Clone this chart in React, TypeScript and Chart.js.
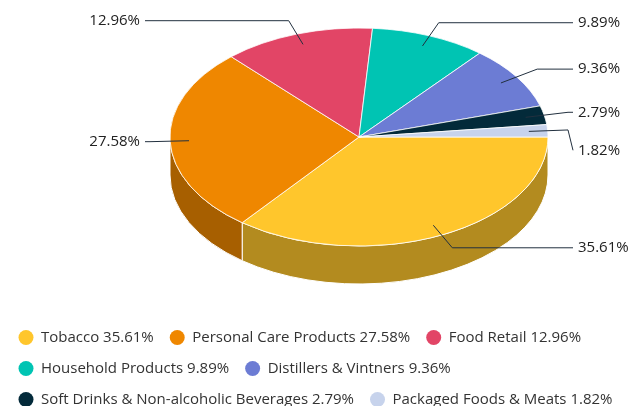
import React, { useEffect, useRef } from 'react';
import { Chart, registerables } from 'chart.js';

Chart.register(...registerables);

// ---- data ----
const CATEGORIES = [
  'Tobacco',
  'Personal Care Products',
  'Food Retail',
  'Household Products',
  'Distillers & Vintners',
  'Soft Drinks & Non-alcoholic Beverages',
  'Packaged Foods & Meats',
];
const SHARES = [35.61, 27.58, 12.96, 9.89, 9.36, 2.79, 1.82];
const COLORS = ['#FFC62C', '#EF8700', '#E24566', '#00C4B3', '#6C7CD4', '#032A3A', '#C7D3EC'];

// ---- layout / style ----
const CX = 359;
const CY = 137;
const RADIUS = 189;
const TILT = 109 / 189;
const DEPTH = 38;
const FONT = 'Open Sans';

function darken(hex: string, f: number) {
  const n = parseInt(hex.slice(1), 16);
  const r = Math.round(((n >> 16) & 255) * f);
  const g = Math.round(((n >> 8) & 255) * f);
  const b = Math.round((n & 255) * f);
  return `rgb(${r},${g},${b})`;
}
const SIDE_COLORS = COLORS.map((c) => darken(c, 0.7));

const pie3d = {
  id: 'pie3d',
  beforeDatasetsDraw(chart: any) {
    const meta = chart.getDatasetMeta(0);
    const arcs = meta.data;
    const ctx = chart.ctx as CanvasRenderingContext2D;
    if (!arcs.length) return;
    const rx = arcs[0].outerRadius;
    const ry = rx * TILT;
    arcs.forEach((arc: any, i: number) => {
      const a1 = Math.max(arc.startAngle, 0);
      const a2 = Math.min(arc.endAngle, Math.PI);
      if (a2 <= a1) return;
      ctx.beginPath();
      ctx.ellipse(CX, CY, rx, ry, 0, a1, a2, false);
      ctx.ellipse(CX, CY + DEPTH, rx, ry, 0, a2, a1, true);
      ctx.closePath();
      ctx.fillStyle = SIDE_COLORS[i];
      ctx.fill();
      ctx.strokeStyle = '#ffffff';
      ctx.lineWidth = 1;
      ctx.stroke();
    });
    ctx.save();
    ctx.translate(CX, CY);
    ctx.scale(1, TILT);
    ctx.translate(-arcs[0].x, -arcs[0].y);
  },
  afterDatasetsDraw(chart: any) {
    const ctx = chart.ctx as CanvasRenderingContext2D;
    ctx.restore();
    const meta = chart.getDatasetMeta(0);
    const arcs = meta.data;
    if (!arcs.length) return;
    const rx = arcs[0].outerRadius;
    const ry = rx * TILT;
    const items = arcs.map((arc: any, i: number) => {
      const m = (arc.startAngle + arc.endAngle) / 2;
      const cos = Math.cos(m);
      const sin = Math.sin(m);
      const right = cos >= 0;
      const ax = CX + 0.9 * rx * cos;
      const ay = CY + 0.9 * ry * sin;
      const ny = CY + 1.13 * ry * sin;
      const t = Math.abs(sin) > 1e-6 ? (ny - ay) / (ry * sin) : 0.23;
      let bx = ax + t * rx * cos;
      const lineEnd = right ? CX + rx + 25 : CX - rx - 25;
      if (right) bx = Math.min(bx, lineEnd - 5);
      else bx = Math.max(bx, lineEnd + 5);
      return { i, right, ax, ay, ny, bx, lineEnd, y: ny };
    });
    const GAP = 38;
    [true, false].forEach((side) => {
      const list = items.filter((it: any) => it.right === side).sort((a: any, b: any) => a.ny - b.ny);
      for (let k = 1; k < list.length; k++) {
        if (list[k].y - list[k - 1].y < GAP) list[k].y = list[k - 1].y + GAP;
      }
    });
    ctx.save();
    ctx.strokeStyle = '#22303f';
    ctx.lineWidth = 1;
    ctx.font = `15px "${FONT}"`;
    ctx.fillStyle = '#222222';
    ctx.textBaseline = 'middle';
    items.forEach((it: any) => {
      ctx.beginPath();
      ctx.moveTo(it.ax, it.ay);
      ctx.lineTo(it.bx, it.ny);
      ctx.lineTo(it.lineEnd, it.y);
      ctx.stroke();
      ctx.textAlign = it.right ? 'left' : 'right';
      const tx = it.right ? it.lineEnd + 5 : it.lineEnd - 5;
      ctx.fillText(SHARES[it.i].toFixed(2) + '%', tx, it.y);
    });
    ctx.restore();
  },
};

export default function App() {
  const ref = useRef<HTMLCanvasElement>(null);
  useEffect(() => {
    Chart.defaults.font.family = FONT;
    const baseGen = (Chart.overrides as any).doughnut.plugins.legend.labels.generateLabels;
    const chart = new Chart(ref.current as HTMLCanvasElement, {
      type: 'pie',
      data: {
        labels: CATEGORIES,
        datasets: [
          {
            data: SHARES,
            backgroundColor: COLORS,
            borderColor: '#ffffff',
            borderWidth: 1,
            hoverOffset: 0,
            radius: RADIUS,
            rotation: 90,
            clip: false,
          } as any,
        ],
      },
      options: {
        responsive: false,
        animation: false,
        rotation: 90,
        layout: { padding: { left: 2.5, right: 0, top: 0, bottom: 0 } },
        plugins: {
          tooltip: { enabled: false },
          legend: {
            position: 'bottom',
            align: 'start',
            labels: {
              usePointStyle: true,
              pointStyle: 'circle',
              boxWidth: 15,
              boxHeight: 10.6,
              padding: 16,
              color: '#333333',
              font: { family: FONT, size: 15 },
              generateLabels: (c: any) =>
                baseGen(c).map((it: any, i: number) => ({
                  ...it,
                  text: `${CATEGORIES[i]} ${SHARES[i].toFixed(2)}%`,
                  lineWidth: 0,
                  strokeStyle: 'rgba(0,0,0,0)',
                  pointStyle: 'circle',
                })),
            },
          },
        },
      } as any,
      plugins: [pie3d],
    });
    return () => chart.destroy();
  }, []);
  return (
    <div
      style={{
        position: 'fixed',
        left: 0,
        top: 0,
        width: 628,
        height: 406,
        overflow: 'hidden',
        background: '#ffffff',
      }}
    >
      <canvas ref={ref} width={660} height={417} style={{ display: 'block', width: 660, height: 417 }} />
    </div>
  );
}
